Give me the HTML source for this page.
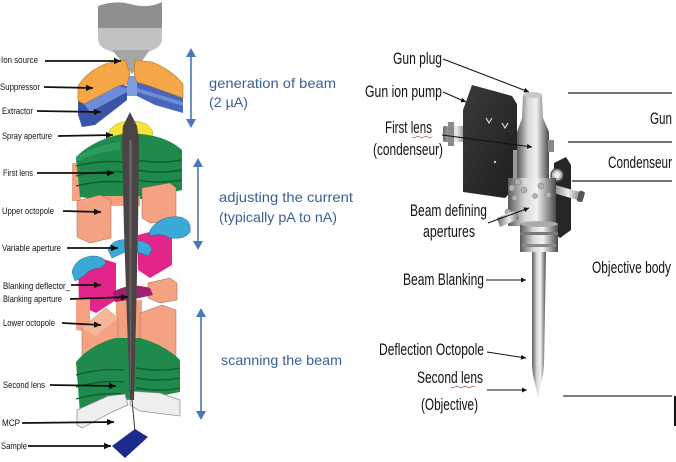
<!DOCTYPE html>
<html><head><meta charset="utf-8"><style>
html,body{margin:0;padding:0;background:#fff;}
svg{display:block;}
.ll{font-family:"Liberation Sans",sans-serif;font-size:9.5px;fill:#111;}
.bt{font-family:"Liberation Sans",sans-serif;font-size:14px;fill:#3b5f95;}
.rt{font-family:"Liberation Sans",sans-serif;font-size:17px;fill:#111;}
</style></head><body>
<svg width="676" height="462" viewBox="0 0 676 462" xmlns="http://www.w3.org/2000/svg">
<defs>
<marker id="ab" markerUnits="userSpaceOnUse" markerWidth="8" markerHeight="8" refX="7" refY="4" orient="auto"><path d="M0,0.8 L7,4 L0,7.2 Z" fill="#111"/></marker>
<marker id="at" markerUnits="userSpaceOnUse" markerWidth="6" markerHeight="6" refX="5" refY="3" orient="auto"><path d="M0,0.5 L5,3 L0,5.5 Z" fill="#111"/></marker>
<linearGradient id="metal" x1="0" x2="1" y1="0" y2="0"><stop offset="0" stop-color="#5a5a5a"/><stop offset="0.35" stop-color="#d8d8d8"/><stop offset="0.6" stop-color="#f2f2f2"/><stop offset="0.85" stop-color="#8a8a8a"/><stop offset="1" stop-color="#4a4a4a"/></linearGradient>
<linearGradient id="metal2" x1="0" x2="1" y1="0" y2="0"><stop offset="0" stop-color="#6a6a6a"/><stop offset="0.4" stop-color="#c9c9c9"/><stop offset="0.55" stop-color="#eeeeee"/><stop offset="1" stop-color="#6e6e6e"/></linearGradient>
<linearGradient id="panel" x1="0" x2="1" y1="0" y2="1"><stop offset="0" stop-color="#3a3a3a"/><stop offset="1" stop-color="#1e1e1e"/></linearGradient>
</defs>

<!-- ===== LEFT ILLUSTRATION ===== -->
<path d="M98,6 Q115,0 130,4 Q148,9 162,2 L162,30 L98,30 Z" fill="#8f8f8f"/>
<path d="M98,28 L162,28 L162,40 Q160,51 140,53 L120,53 Q100,51 98,40 Z" fill="#c2c2c2"/>
<path d="M112,50 L150,50 L132,74 Z" fill="#a5a5a5"/>

<path d="M78,100 L118,84 L127,86 L127,100 L122,104 L95,125 L82,127 L78,115 Z" fill="#3c54a8"/>
<path d="M137,82 L150,86 L183,98 L183,113 L155,105 L137,96 Z" fill="#4a66bc"/>
<path d="M127,76 L137,76 L137,96 L127,96 Z" fill="#7f9ee2"/>
<path d="M78,86 Q88,70 108,63 L125,60 L130,74 L127,84 L118,86 L84,104 L78,101 Z" fill="#f5a646" stroke="#b0701c" stroke-width="0.6"/>
<path d="M135,60 L152,62 Q172,70 183,84 L183,98 L150,86 L137,82 L134,74 Z" fill="#f5a646" stroke="#b0701c" stroke-width="0.6"/>
<path d="M84,104 L118,86 L127,88 L127,92 L90,112 Z" fill="#6f8ad6"/>
<path d="M137,88 L183,102 L183,106 L137,92 Z" fill="#6f8ad6"/>

<path d="M108,135 Q111,122 130,121 Q150,121 153,133 L150,141 Q140,136 130,138 L115,146 L110,143 Z" fill="#f6e43a" stroke="#b9a414" stroke-width="0.5"/>

<rect x="72" y="163" width="9" height="38" fill="#f5a283"/>
<path d="M76,157 Q95,138 128,133 Q165,134 182,150 L182,190 L150,198 L118,202 L80,197 Z" fill="#1f8a4c"/>
<path d="M76,166 Q100,160 124,162 M76,176 Q100,170 124,172 M76,186 Q100,180 124,182 M136,160 Q160,164 182,160 M136,170 Q160,174 182,170 M136,180 Q160,184 182,180" stroke="#0f5e31" stroke-width="1.4" fill="none"/>
<path d="M76,157 Q95,145 120,142 L120,150 Q95,152 76,162 Z" fill="#2a9c5c"/>

<path d="M100,196 L140,196 L140,206 L100,206 Z" fill="#f3a07f"/>
<path d="M77,201 L100,195 L111,200 L111,238 L90,243 L77,237 Z" fill="#f5a283" stroke="#9b6650" stroke-width="0.5"/>
<path d="M142,188 L170,183 L176,188 L176,220 L150,223 L142,218 Z" fill="#f5a283" stroke="#9b6650" stroke-width="0.5"/>

<path d="M138,235 L165,228 L172,235 L172,265 L150,278 L138,270 Z" fill="#e3258a"/>
<path d="M78,266 L100,258 L116,263 L116,300 L96,313 L79,305 Z" fill="#e3258a"/>

<path d="M150,230 Q160,215 180,217 Q192,220 190,232 Q185,240 170,238 Q160,232 150,236 Z" fill="#3aa9d8" stroke="#1a6f98" stroke-width="0.5"/>
<path d="M108,250 Q112,238 130,240 Q150,240 152,250 L148,256 Q135,250 125,252 L112,258 Z" fill="#3aa9d8" stroke="#1a6f98" stroke-width="0.5"/>
<path d="M72,272 Q75,258 92,256 Q105,256 106,264 L100,268 Q90,268 85,275 L75,281 Z" fill="#3aa9d8" stroke="#1a6f98" stroke-width="0.5"/>

<path d="M148,283 L170,278 L177,283 L177,300 L160,303 L148,298 Z" fill="#f5a283" stroke="#9b6650" stroke-width="0.5"/>
<path d="M76,300 L90,298 L90,332 L76,330 Z" fill="#f5a283"/>
<path d="M116,300 L142,300 L142,340 L116,340 Z" fill="#f3a07f"/>
<path d="M113,292 Q130,282 150,288 L153,295 Q140,298 128,300 L115,302 Z" fill="#a01f6e"/>
<path d="M140,313 L162,305 L176,310 L176,358 L158,362 L140,358 Z" fill="#f5a283" stroke="#9b6650" stroke-width="0.5"/>
<path d="M82,328 L106,308 L118,318 L118,365 L100,377 L82,370 Z" fill="#f5a283" stroke="#9b6650" stroke-width="0.5"/>
<path d="M82,328 L106,308 L118,318 L96,336 Z" fill="#f8b598"/>

<path d="M76,362 Q90,345 115,338 L140,338 Q165,345 180,360 L180,392 L150,398 L125,400 L100,405 L80,413 Z" fill="#1f8a4c"/>
<path d="M76,375 Q100,368 124,370 M76,387 Q100,380 124,382 M76,399 Q100,392 124,394 M136,368 Q160,372 180,368 M136,378 Q160,382 180,378 M136,388 Q160,392 180,388" stroke="#0f5e31" stroke-width="1.4" fill="none"/>

<path d="M77,410 L108,396 L125,394 L128,405 L112,412 L82,428 L77,425 Z" fill="#eeeeee" stroke="#8a8a8a" stroke-width="0.7"/>
<path d="M130,391 L160,393 L180,400 L180,416 L140,411 L130,405 Z" fill="#eeeeee" stroke="#8a8a8a" stroke-width="0.7"/>

<path d="M130,112 L137,126 L139,140 L138,230 L136,320 L134,400 L130,400 L127,320 L124,230 L122,140 L123,126 Z" fill="#4a4444"/>
<path d="M129,140 L132,140 L131,390 L130,390 Z" fill="#6a6262"/>
<line x1="132" y1="400" x2="135" y2="432" stroke="#333" stroke-width="1"/>

<path d="M112,446 L135,429 L148,437 L125,458 Z" fill="#1c2a8e"/>

<g class="ll">
<text x="1" y="63" textLength="37" lengthAdjust="spacingAndGlyphs">Ion source</text>
<text x="0" y="90" textLength="40" lengthAdjust="spacingAndGlyphs">Suppressor</text>
<text x="2" y="114" textLength="31" lengthAdjust="spacingAndGlyphs">Extractor</text>
<text x="2" y="139" textLength="50" lengthAdjust="spacingAndGlyphs">Spray aperture</text>
<text x="3" y="176" textLength="30" lengthAdjust="spacingAndGlyphs">First lens</text>
<text x="2" y="214" textLength="52" lengthAdjust="spacingAndGlyphs">Upper octopole</text>
<text x="2" y="251" textLength="59" lengthAdjust="spacingAndGlyphs">Variable aperture</text>
<text x="3" y="289" textLength="67" lengthAdjust="spacingAndGlyphs">Blanking deflector_</text>
<text x="3" y="302" textLength="59" lengthAdjust="spacingAndGlyphs">Blanking aperture</text>
<text x="3" y="326" textLength="52" lengthAdjust="spacingAndGlyphs">Lower octopole</text>
<text x="3" y="388" textLength="42" lengthAdjust="spacingAndGlyphs">Second lens</text>
<text x="2" y="426" textLength="18" lengthAdjust="spacingAndGlyphs">MCP</text>
<text x="1" y="449" textLength="26" lengthAdjust="spacingAndGlyphs">Sample</text>
</g>
<g stroke="#111" stroke-width="1.8" fill="none" marker-end="url(#ab)">
<line x1="45" y1="61" x2="121" y2="61"/>
<line x1="44" y1="87" x2="93" y2="88"/>
<line x1="37" y1="111" x2="101" y2="112"/>
<line x1="58" y1="136" x2="113" y2="135"/>
<line x1="37" y1="173" x2="114" y2="173"/>
<line x1="63" y1="211" x2="101" y2="212"/>
<line x1="67" y1="248" x2="118" y2="248"/>
<line x1="71" y1="285" x2="101" y2="285"/>
<line x1="70" y1="299" x2="128" y2="297"/>
<line x1="62" y1="323" x2="101" y2="325"/>
<line x1="50" y1="385" x2="116" y2="386"/>
<line x1="22" y1="423" x2="114" y2="422"/>
<line x1="28" y1="446" x2="111" y2="446"/>
</g>

<g stroke="#4a78b5" stroke-width="1.6">
<line x1="191" y1="55" x2="191" y2="121"/>
<line x1="198" y1="165" x2="198" y2="243"/>
<line x1="201" y1="315" x2="201" y2="413"/>
</g>
<g fill="#4a78b5">
<path d="M191,48 L186,57 L196,57 Z"/><path d="M191,128 L186,119 L196,119 Z"/>
<path d="M198,158 L193,167 L203,167 Z"/><path d="M198,250 L193,241 L203,241 Z"/>
<path d="M201,308 L196,317 L206,317 Z"/><path d="M201,420 L196,411 L206,411 Z"/>
</g>
<g class="bt">
<text x="209" y="88" textLength="127" lengthAdjust="spacingAndGlyphs">generation of beam</text>
<text x="209" y="107" textLength="39" lengthAdjust="spacingAndGlyphs">(2 µA)</text>
<text x="219" y="202" textLength="134" lengthAdjust="spacingAndGlyphs">adjusting the current</text>
<text x="219" y="222" textLength="118" lengthAdjust="spacingAndGlyphs">(typically pA to nA)</text>
<text x="221" y="365" textLength="121" lengthAdjust="spacingAndGlyphs">scanning the beam</text>
</g>

<!-- ===== RIGHT PHOTO ===== -->
<rect x="443" y="126" width="24" height="16" rx="2" fill="url(#metal2)"/>
<rect x="448" y="122" width="6" height="24" fill="#8a8a8a"/>
<path d="M472,85 L512,96 L517,104 L517,186 L505,198 L463,192 L463,110 Z" fill="url(#panel)"/>
<path d="M486,118 l3,5 l3,-5 M502,123 l3,5 l3,-5" stroke="#ddd" stroke-width="1.2" fill="none"/>
<circle cx="495" cy="162" r="1.2" fill="#ccc"/>
<rect x="513" y="150" width="8" height="28" fill="#9a9a9a"/>
<path d="M523,95 Q532,90 542,95 L543,118 L549,132 L549,205 L517,205 L517,132 L522,118 Z" fill="url(#metal)"/>
<ellipse cx="532.5" cy="95" rx="9.5" ry="3" fill="#c8c8c8"/>
<rect x="548" y="140" width="6" height="12" fill="#888"/>
<path d="M554,163 L566,157 L571,165 L571,230 L560,238 L553,232 Z" fill="#262626"/>
<circle cx="557" cy="175" r="6" fill="#bdbdbd" stroke="#555" stroke-width="1.5"/>
<circle cx="557" cy="175" r="3" fill="#eee"/>
<path d="M552,184 L583,193 L581,201 L550,192 Z" fill="url(#metal2)"/>
<rect x="578" y="191" width="6" height="11" rx="2" fill="#555" transform="rotate(16 581 196)"/>
<rect x="508" y="178" width="48" height="48" fill="url(#metal)"/>
<g fill="#b8b0a8" stroke="#777" stroke-width="0.5">
<circle cx="512" cy="188" r="3"/><circle cx="518" cy="182" r="3"/><circle cx="524" cy="190" r="3"/><circle cx="515" cy="198" r="3"/><circle cx="541" cy="186" r="3"/><circle cx="548" cy="195" r="3"/><circle cx="535" cy="196" r="2.5"/><circle cx="508" cy="212" r="3"/>
</g>
<path d="M497,218 L516,210 L519,219 L500,227 Z" fill="url(#metal2)"/>
<rect x="520" y="224" width="38" height="28" fill="url(#metal)"/>
<ellipse cx="539" cy="224" rx="19" ry="3" fill="#aaa"/>
<rect x="520" y="232" width="38" height="3" fill="#7a7a7a"/>
<rect x="522" y="244" width="34" height="3" fill="#8a8a8a"/>
<path d="M532,252 L546,252 L544,365 L543,375 L538,397 L533,375 L532,365 Z" fill="url(#metal)"/>

<g stroke="#111" stroke-width="1" fill="none" marker-end="url(#at)">
<line x1="443" y1="59" x2="529" y2="92"/>
<line x1="443" y1="92" x2="466" y2="102"/>
<line x1="442" y1="135" x2="532" y2="147"/>
<line x1="488" y1="223" x2="529" y2="208"/>
<line x1="486" y1="280" x2="526" y2="280"/>
<line x1="487" y1="352" x2="526" y2="358"/>
<line x1="487" y1="390" x2="527" y2="390"/>
</g>
<g class="rt">
<text x="393" y="64" textLength="49" lengthAdjust="spacingAndGlyphs">Gun plug</text>
<text x="365" y="97" textLength="77" lengthAdjust="spacingAndGlyphs">Gun ion pump</text>
<text x="385" y="133" textLength="47" lengthAdjust="spacingAndGlyphs">First lens</text>
<text x="373" y="155" textLength="70" lengthAdjust="spacingAndGlyphs">(condenseur)</text>
<text x="410" y="216" textLength="77" lengthAdjust="spacingAndGlyphs">Beam defining</text>
<text x="423" y="237" textLength="52" lengthAdjust="spacingAndGlyphs">apertures</text>
<text x="403" y="285" textLength="81" lengthAdjust="spacingAndGlyphs">Beam Blanking</text>
<text x="379" y="355" textLength="105" lengthAdjust="spacingAndGlyphs">Deflection Octopole</text>
<text x="417" y="383" textLength="66" lengthAdjust="spacingAndGlyphs">Second lens</text>
<text x="421" y="410" textLength="57" lengthAdjust="spacingAndGlyphs">(Objective)</text>
<text x="592" y="273" textLength="79" lengthAdjust="spacingAndGlyphs">Objective body</text>
<text x="650" y="124" textLength="22" lengthAdjust="spacingAndGlyphs">Gun</text>
<text x="608" y="168" textLength="64" lengthAdjust="spacingAndGlyphs">Condenseur</text>
</g>
<path d="M412,137 q2,1.5 4,0 t4,0 t4,0 t4,0 t4,0" stroke="#d04040" stroke-width="0.7" fill="none"/>
<path d="M451,387 q2,1.5 4,0 t4,0 t4,0 t4,0 t4,0 t4,0" stroke="#d04040" stroke-width="0.7" fill="none"/>
<g stroke="#222" stroke-width="1.2">
<line x1="568" y1="93" x2="672" y2="93"/>
<line x1="568" y1="142" x2="672" y2="142"/>
<line x1="572" y1="181" x2="672" y2="181"/>
</g>
<line x1="563" y1="396" x2="672" y2="396" stroke="#555" stroke-width="1.5"/>
<line x1="675" y1="396" x2="675" y2="426" stroke="#111" stroke-width="2"/>
</svg>
</body></html>
